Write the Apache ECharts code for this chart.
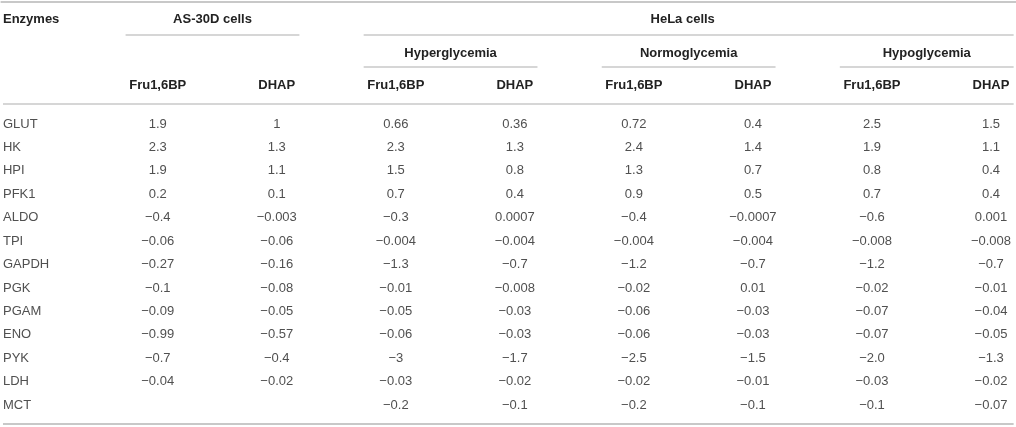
<!DOCTYPE html>
<html>
<head>
<meta charset="utf-8">
<script src="https://cdn.jsdelivr.net/npm/echarts@6/dist/echarts.min.js"></script>
<style>
  html, body { margin: 0; padding: 0; background: #fff; }
  #table { width: 1016px; height: 427px; }
</style>
</head>
<body>
<div id="table"></div>
<script>
// 表格数据
var enzymes = ['GLUT', 'HK', 'HPI', 'PFK1', 'ALDO', 'TPI', 'GAPDH', 'PGK', 'PGAM', 'ENO', 'PYK', 'LDH', 'MCT'];
var measures = ['Fru1,6BP', 'DHAP'];
var cellLines = ['AS-30D cells', 'HeLa cells'];
var conditions = ['Hyperglycemia', 'Normoglycemia', 'Hypoglycemia'];

var as30dFru  = ['1.9', '2.3', '1.9', '0.2', '-0.4', '-0.06', '-0.27', '-0.1', '-0.09', '-0.99', '-0.7', '-0.04', ''];
var as30dDhap = ['1', '1.3', '1.1', '0.1', '-0.003', '-0.06', '-0.16', '-0.08', '-0.05', '-0.57', '-0.4', '-0.02', ''];
var hyperFru  = ['0.66', '2.3', '1.5', '0.7', '-0.3', '-0.004', '-1.3', '-0.01', '-0.05', '-0.06', '-3', '-0.03', '-0.2'];
var hyperDhap = ['0.36', '1.3', '0.8', '0.4', '0.0007', '-0.004', '-0.7', '-0.008', '-0.03', '-0.03', '-1.7', '-0.02', '-0.1'];
var normoFru  = ['0.72', '2.4', '1.3', '0.9', '-0.4', '-0.004', '-1.2', '-0.02', '-0.06', '-0.06', '-2.5', '-0.02', '-0.2'];
var normoDhap = ['0.4', '1.4', '0.7', '0.5', '-0.0007', '-0.004', '-0.7', '0.01', '-0.03', '-0.03', '-1.5', '-0.01', '-0.1'];
var hypoFru   = ['2.5', '1.9', '0.8', '0.7', '-0.6', '-0.008', '-1.2', '-0.02', '-0.07', '-0.07', '-2.0', '-0.03', '-0.1'];
var hypoDhap  = ['1.5', '1.1', '0.4', '0.4', '0.001', '-0.008', '-0.7', '-0.01', '-0.04', '-0.05', '-1.3', '-0.02', '-0.07'];

var columns = [as30dFru, as30dDhap, hyperFru, hyperDhap, normoFru, normoDhap, hypoFru, hypoDhap];

// 布局 (坐标轴单位: x = 列序号, y = 行序号)
var LABEL_X = -1.3;
var HEAD0_Y = -4.48, HEAD1_Y = -3.03, HEAD2_Y = -1.66;
var TOP_Y = -5.21, GROUP_LINE_Y = -3.80, SUB_LINE_Y = -2.43, HEAD_LINE_Y = -0.85, BOTTOM_Y = 12.81;
var SPAN_L = 0.27, SPAN_R = 0.19, FULL_L = -1.3, FULL_R = 7.19;

var FONT = '"Liberation Sans", Arial, Helvetica, sans-serif';
var minus = function (s) { return s.replace('-', '\u2212'); };

// 文字单元格
var cells = [];
cells.push({ x: LABEL_X, y: HEAD0_Y, text: 'Enzymes', align: 'left', bold: true });
var as30dSpan = [0 - SPAN_L, 1 + SPAN_R];
var helaSpan = [2 - SPAN_L, FULL_R];
cells.push({ x: (as30dSpan[0] + as30dSpan[1]) / 2, y: HEAD0_Y, text: cellLines[0], align: 'center', bold: true });
cells.push({ x: 4.41, y: HEAD0_Y, text: cellLines[1], align: 'center', bold: true });
var condSpans = [];
conditions.forEach(function (name, i) {
    var c0 = 2 + i * 2;
    var span = [c0 - SPAN_L, c0 + 1 + SPAN_R];
    condSpans.push(span);
    cells.push({ x: (span[0] + span[1]) / 2, y: HEAD1_Y, text: name, align: 'center', bold: true });
});
columns.forEach(function (col, c) {
    cells.push({ x: c, y: HEAD2_Y, text: measures[c % 2], align: 'center', bold: true });
    col.forEach(function (v, r) {
        if (v !== '') cells.push({ x: c, y: r, text: minus(v), align: 'center', bold: false });
    });
});
enzymes.forEach(function (name, r) {
    cells.push({ x: LABEL_X, y: r, text: name, align: 'left', bold: false });
});

// 横线
var rules = [
    [FULL_L - 0.02, TOP_Y, FULL_R + 0.02, 2],
    [as30dSpan[0], GROUP_LINE_Y, as30dSpan[1], 1.5],
    [helaSpan[0], GROUP_LINE_Y, helaSpan[1], 1.5],
    [FULL_L, HEAD_LINE_Y, FULL_R, 1.5],
    [FULL_L, BOTTOM_Y, FULL_R, 2]
];
condSpans.forEach(function (s) { rules.push([s[0], SUB_LINE_Y, s[1], 1.5]); });

var myChart = echarts.init(document.getElementById('table'));

var option = {
    animation: false,
    grid: { left: 0, right: 0, top: 0, bottom: 0 },
    xAxis: { type: 'value', min: -1.325, max: 7.21, show: false },
    yAxis: { type: 'value', min: -5.295, max: 12.938, inverse: true, show: false },
    series: [
        {
            type: 'custom',
            data: rules,
            renderItem: function (params, api) {
                var a = api.coord([api.value(0), api.value(1)]);
                var b = api.coord([api.value(2), api.value(1)]);
                return {
                    type: 'line',
                    shape: { x1: a[0], y1: a[1], x2: b[0], y2: b[1] },
                    style: { stroke: '#c8c8c8', lineWidth: api.value(3) }
                };
            }
        },
        {
            type: 'custom',
            data: cells.map(function (c) { return [c.x, c.y]; }),
            renderItem: function (params, api) {
                var cell = cells[params.dataIndex];
                var p = api.coord([api.value(0), api.value(1)]);
                return {
                    type: 'text',
                    x: p[0],
                    y: p[1],
                    style: {
                        text: cell.text,
                        font: (cell.bold ? 'bold ' : '') + '13px ' + FONT,
                        fill: cell.bold ? '#222' : '#505050',
                        align: cell.align,
                        textAlign: cell.align,
                        verticalAlign: 'middle',
                        textVerticalAlign: 'middle'
                    }
                };
            }
        }
    ]
};

myChart.setOption(option);
</script>
</body>
</html>
